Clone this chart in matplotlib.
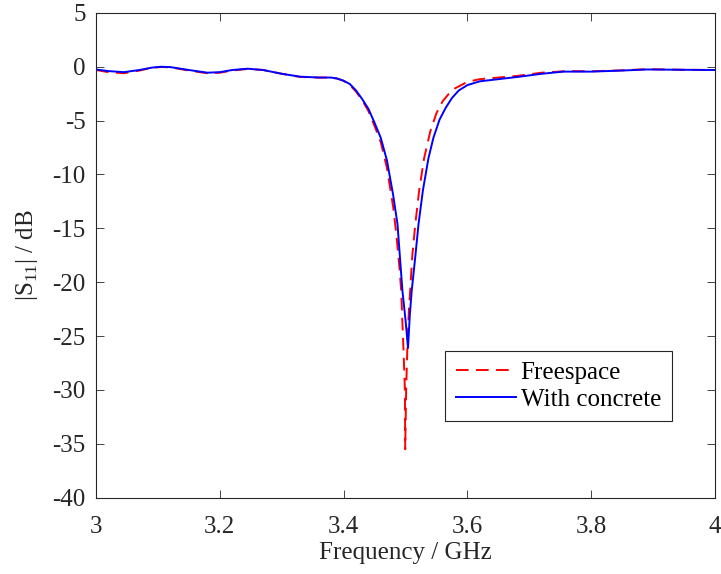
import numpy as np
import matplotlib.pyplot as plt

plt.rcParams['font.family'] = ['Liberation Serif', 'DejaVu Serif']
plt.rcParams['mathtext.fontset'] = 'custom'
plt.rcParams['mathtext.rm'] = 'Liberation Serif'

# Freespace (red dashed)
freq_free = [3.00, 3.02, 3.045, 3.07, 3.09, 3.105, 3.12, 3.15, 3.18, 3.20, 3.22,
             3.245, 3.27, 3.30, 3.33, 3.36, 3.38, 3.39, 3.40, 3.41, 3.42, 3.43,
             3.44, 3.45, 3.46, 3.47, 3.48, 3.485, 3.49, 3.493, 3.4965, 3.499,
             3.4995, 3.501, 3.503, 3.5055, 3.5075, 3.511, 3.516, 3.522, 3.53,
             3.54, 3.55, 3.56, 3.57, 3.58, 3.60, 3.62, 3.65, 3.68, 3.72, 3.76,
             3.80, 3.85, 3.89, 3.95, 4.00]
s11_free = [-0.3, -0.5, -0.6, -0.35, -0.1, -0.02, -0.05, -0.35, -0.6, -0.55, -0.35,
            -0.2, -0.3, -0.65, -0.95, -1.0, -1.0, -1.1, -1.3, -1.7, -2.3, -3.1,
            -4.1, -5.5, -7.0, -9.4, -13.0, -15.5, -18.5, -20.8, -26.0, -30.0,
            -35.5, -30.0, -26.0, -22.5, -20.8, -17.5, -14.5, -11.5, -8.5,
            -6.0, -4.3, -3.2, -2.5, -2.0, -1.4, -1.15, -1.0, -0.85, -0.55, -0.4,
            -0.42, -0.33, -0.22, -0.28, -0.3]

# With concrete (blue solid)
freq_conc = [3.00, 3.02, 3.045, 3.07, 3.09, 3.105, 3.12, 3.15, 3.18, 3.20, 3.22,
             3.245, 3.27, 3.30, 3.33, 3.36, 3.38, 3.39, 3.40, 3.41, 3.42, 3.43,
             3.44, 3.45, 3.46, 3.47, 3.48, 3.487, 3.495, 3.500, 3.504, 3.507,
             3.510, 3.516, 3.521, 3.528, 3.537, 3.545, 3.555, 3.565, 3.575, 3.586,
             3.60, 3.62, 3.65, 3.68, 3.72, 3.755, 3.80, 3.85, 3.89, 3.95, 4.00]
s11_conc = [-0.25, -0.4, -0.5, -0.3, -0.08, 0.0, -0.03, -0.3, -0.55, -0.5, -0.3,
            -0.18, -0.3, -0.65, -0.92, -1.0, -1.0, -1.1, -1.3, -1.6, -2.2, -3.0,
            -3.9, -5.2, -6.6, -8.7, -11.9, -14.6, -20.8, -23.5, -26.1, -23.0,
            -20.8, -17.5, -14.6, -11.5, -8.5, -6.6, -4.9, -3.8, -2.9, -2.2,
            -1.7, -1.35, -1.15, -0.95, -0.65, -0.45, -0.45, -0.35, -0.25, -0.28, -0.3]

xticks = [3, 3.2, 3.4, 3.6, 3.8, 4]
yticks = list(range(-40, 6, 5))

fig = plt.figure(figsize=(7.21, 5.74), dpi=100)
ax = fig.add_axes([0.1332, 0.1330, 0.8585, 0.8445])

ax.plot(freq_free, s11_free, color='red', lw=1.4, dashes=(6.5, 3.8),
        label='Freespace')
ax.plot(freq_conc, s11_conc, color='blue', lw=1.4, label='With concrete')

ax.set_xlim(3, 4)
ax.set_ylim(-40, 5)
ax.set_xticks(xticks)
ax.set_xticklabels(['3', '3.2', '3.4', '3.6', '3.8', '4'])
ax.set_yticks(yticks)
ax.set_yticklabels([str(v) for v in yticks])
ax.tick_params(direction='in', length=6, width=0.6, labelsize=18,
               top=True, right=True, colors='#262626')
ax.tick_params(axis='x', pad=13)
ax.tick_params(axis='y', pad=7.5)
for s in ax.spines.values():
    s.set_color('#262626')
    s.set_linewidth(0.8)

ax.set_xlabel('Frequency / GHz', fontsize=18, color='#262626', labelpad=3)
ax.set_ylabel(r'|S$_{11}$| / dB', fontsize=18, color='#262626', labelpad=9)

leg = ax.legend(loc='lower left', bbox_to_anchor=(0.564, 0.158),
                fontsize=18, handlelength=2.4, handletextpad=0.2,
                borderaxespad=0, fancybox=False, framealpha=1,
                labelspacing=0.18, borderpad=0.42)
leg.get_frame().set_edgecolor('#262626')
leg.get_frame().set_linewidth(0.8)

fig.savefig('out.png', dpi=100)
